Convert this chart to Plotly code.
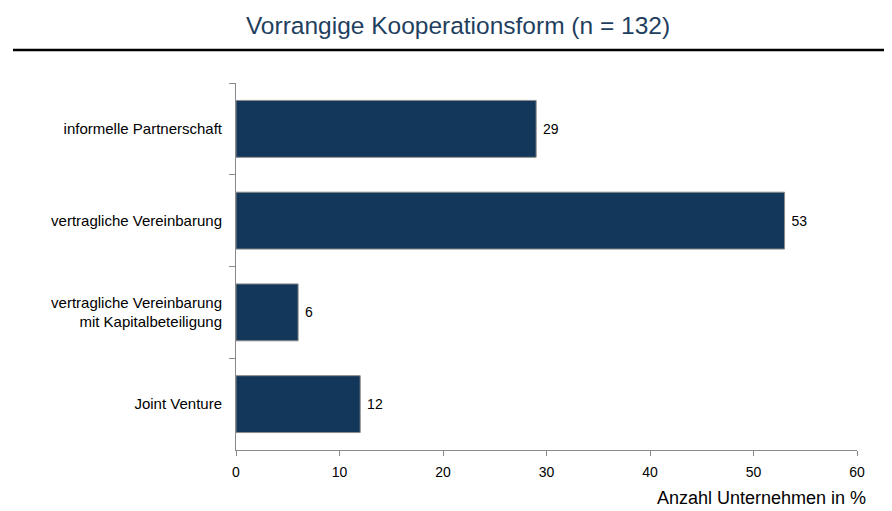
import plotly.graph_objects as go

categories = ["informelle Partnerschaft", "vertragliche Vereinbarung",
              "vertragliche Vereinbarung<br>mit Kapitalbeteiligung", "Joint Venture"]
values = [29, 53, 6, 12]
value_labels = ["29", "53", "6", "12"]
x_ticks = [0, 10, 20, 30, 40, 50, 60]

W, H = 884, 503
L, R, T, B = 228, 35, 75, 61
PW, PH = W - L - R, H - T - B

fig = go.Figure(go.Bar(
    y=categories, x=values, orientation="h",
    text=value_labels, texttemplate=" %{text}", textposition="outside",
    textfont=dict(family="Liberation Sans, Arial", size=14, color="#000000"),
    marker=dict(color="#13375a", line=dict(color="#8a8a8a", width=1)),
    width=0.62, cliponaxis=False,
))

fig.update_layout(
    width=W, height=H,
    margin=dict(l=L, r=R, t=T, b=B),
    paper_bgcolor="white", plot_bgcolor="white",
    showlegend=False,
    font=dict(family="Liberation Sans, Arial", size=14, color="#000000"),
    title=dict(text="Vorrangige Kooperationsform (n = 132)", x=450 / W, xanchor="center",
               y=1 - 17 / H, yanchor="middle",
               font=dict(family="Liberation Sans, Arial", size=24.5, color="#1f3f5f")),
    shapes=[dict(type="line", xref="paper", yref="paper",
                 x0=(5 - L) / PW, x1=(W - L) / PW,
                 y0=(H - B - 42) / PH, y1=(H - B - 42) / PH,
                 line=dict(color="#000000", width=2.5))],
    annotations=[dict(text="Anzahl Unternehmen in %", xref="paper", yref="paper",
                      x=(860 - L) / PW, y=(H - B - 490) / PH,
                      xanchor="right", yanchor="middle", showarrow=False,
                      font=dict(family="Liberation Sans, Arial", size=18, color="#000000"))],
)

fig.update_xaxes(
    range=[0, 60], tickvals=x_ticks, showgrid=False, zeroline=False,
    showline=True, linecolor="#8a8a8a", linewidth=1,
    ticks="outside", ticklen=5, tickcolor="#8a8a8a",
    tickfont=dict(size=14), ticklabelstandoff=4,
)
fig.update_yaxes(
    categoryorder="array", categoryarray=categories,
    autorange="reversed", showgrid=False, zeroline=False,
    showline=True, linecolor="#8a8a8a", linewidth=1,
    ticks="outside", ticklen=6, tickcolor="#8a8a8a", tickson="boundaries",
    tickfont=dict(size=15), ticklabelstandoff=10,
)

fig.write_html("out.html")
